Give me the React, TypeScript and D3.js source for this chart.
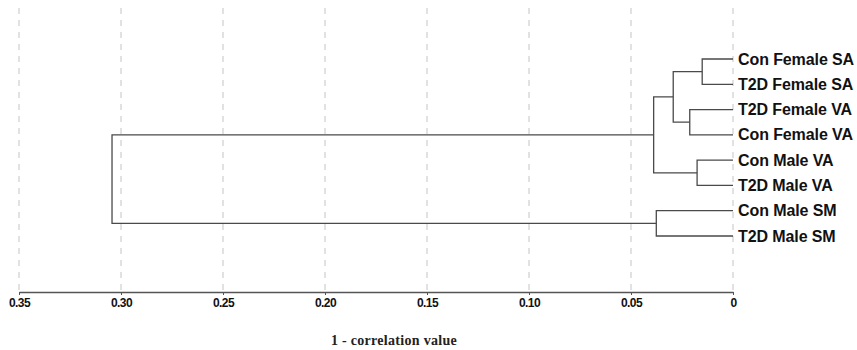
import React, { useEffect, useRef } from "react";
import * as d3 from "d3";

// leaves, top to bottom
const leafNames = [
  "Con Female SA",
  "T2D Female SA",
  "T2D Female VA",
  "Con Female VA",
  "Con Male VA",
  "T2D Male VA",
  "Con Male SM",
  "T2D Male SM",
];

// merges: [left, right, height]; ids < 8 are leaves, 8+ are earlier merges
const mergeLeft = [0, 2, 8, 4, 10, 6, 12];
const mergeRight = [1, 3, 9, 5, 11, 7, 13];
const mergeHeight = [0.0151, 0.0212, 0.0293, 0.0176, 0.0389, 0.0376, 0.3044];

const tickValues = [0.35, 0.3, 0.25, 0.2, 0.15, 0.1, 0.05, 0];
const axisTitle = "1 - correlation value";

const W = 857, H = 350;

export default function App() {
  const ref = useRef<SVGSVGElement>(null);

  useEffect(() => {
    const svg = d3.select(ref.current);
    svg.selectAll("*").remove();

    const x = d3.scaleLinear().domain([0.35, 0]).range([19, 733]);
    const y = d3.scalePoint<string>().domain(leafNames).range([59, 236]);
    const axisY = 292;

    // dashed grid
    svg.append("g").selectAll("line").data(tickValues).enter().append("line")
      .attr("x1", d => x(d)).attr("x2", d => x(d))
      .attr("y1", 8).attr("y2", axisY)
      .attr("stroke", "#c4c4c4").attr("stroke-width", 1)
      .attr("stroke-dasharray", "6,6");

    // node positions
    const nx: number[] = leafNames.map(() => x(0));
    const ny: number[] = leafNames.map(n => y(n) as number);
    mergeHeight.forEach((h, i) => {
      nx.push(x(h));
      ny.push((ny[mergeLeft[i]] + ny[mergeRight[i]]) / 2);
    });

    const g = svg.append("g").attr("fill", "none").attr("stroke", "#4a4a4a").attr("stroke-width", 1.3);
    mergeHeight.forEach((h, i) => {
      const a = mergeLeft[i], b = mergeRight[i], mx = x(h);
      const p = d3.path();
      p.moveTo(nx[a], ny[a]);
      p.lineTo(mx, ny[a]);
      p.lineTo(mx, ny[b]);
      p.lineTo(nx[b], ny[b]);
      g.append("path").attr("d", p.toString());
    });

    // leaf labels
    svg.append("g").selectAll("text").data(leafNames).enter().append("text")
      .attr("x", 738).attr("y", d => (y(d) as number) + 5.5)
      .attr("font-family", "Liberation Sans, Arial, sans-serif")
      .attr("font-size", 16).attr("font-weight", "bold")
      .attr("letter-spacing", -0.1)
      .attr("fill", "#111")
      .text(d => d);

    // axis
    const axis = d3.axisBottom(x).tickValues(tickValues).tickSize(3).tickSizeOuter(0)
      .tickFormat(d => (+d === 0 ? "0" : d3.format(".2f")(+d)));
    const ag = svg.append("g").attr("transform", `translate(0,${axisY})`).call(axis);
    ag.attr("font-size", 12);
    ag.select(".domain").attr("stroke", "#555").attr("stroke-width", 1.3);
    ag.selectAll(".tick line").attr("stroke", "#555");
    ag.selectAll(".tick text")
      .attr("font-family", "Liberation Sans, Arial, sans-serif")
      .attr("font-size", 12).attr("font-weight", "bold")
      .attr("letter-spacing", -0.6)
      .attr("fill", "#111").attr("y", 6).attr("dy", "0.71em");

    svg.append("text")
      .attr("x", 394).attr("y", 345)
      .attr("text-anchor", "middle")
      .attr("font-family", "Liberation Serif, Times New Roman, serif")
      .attr("font-size", 14).attr("font-weight", "bold")
      .attr("letter-spacing", 0.3)
      .attr("fill", "#222")
      .text(axisTitle);
  }, []);

  return (
    <svg ref={ref} width={W} height={H}
      style={{ position: "absolute", left: 0, top: 0, background: "#fff" }} />
  );
}
